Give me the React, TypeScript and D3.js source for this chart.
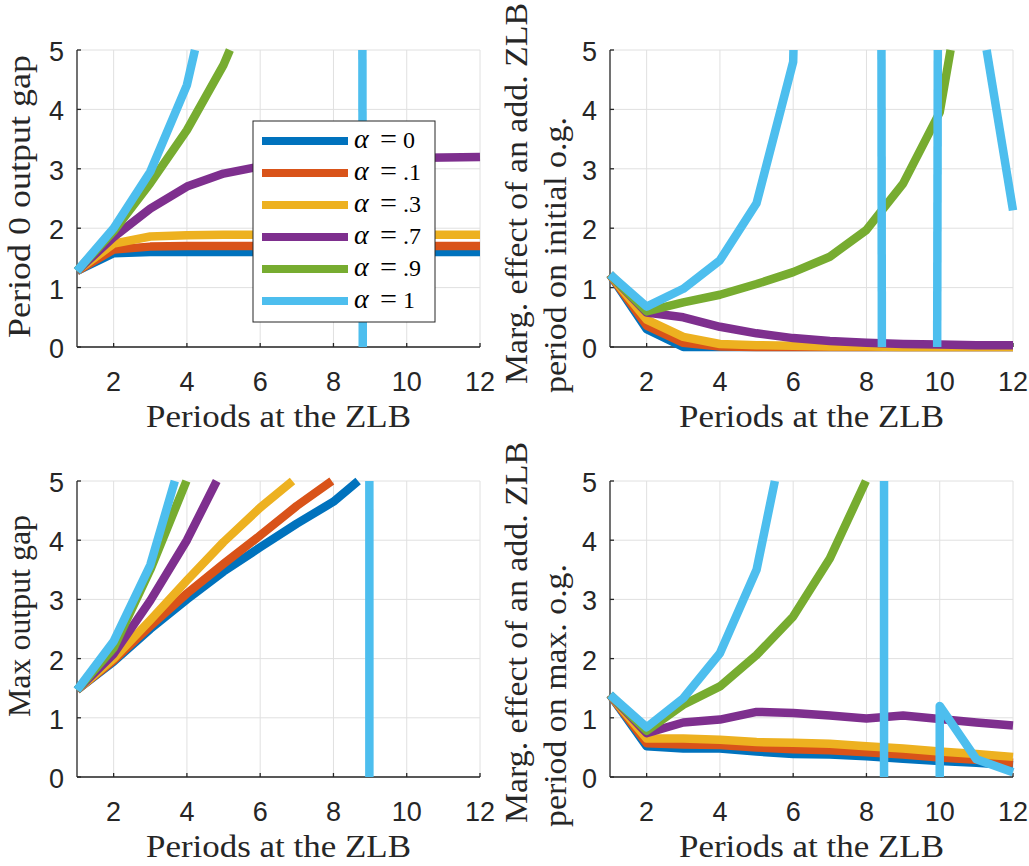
import React from "react";
import * as d3 from "d3";

// ---------- data ----------
const periods = [1, 2, 3, 4, 5, 6, 7, 8, 9, 10, 11, 12];
const alphaLabels = ["0", ".1", ".3", ".7", ".9", "1"];
const colors = ["#0072BD", "#D95319", "#EDB120", "#7E2F8E", "#77AC30", "#4DBEEE"];
const xTicks = [2, 4, 6, 8, 10, 12];
const yTicks = [0, 1, 2, 3, 4, 5];

// Panel 1: Period 0 output gap
const p1_a0 = [1.28, 1.58, 1.6, 1.6, 1.6, 1.6, 1.6, 1.6, 1.6, 1.6, 1.6, 1.6];
const p1_a1 = [1.28, 1.64, 1.69, 1.7, 1.7, 1.7, 1.7, 1.7, 1.7, 1.7, 1.7, 1.7];
const p1_a3 = [1.28, 1.74, 1.86, 1.88, 1.89, 1.89, 1.89, 1.89, 1.89, 1.89, 1.89, 1.89];
const p1_a7 = [1.28, 1.85, 2.33, 2.7, 2.92, 3.04, 3.1, 3.14, 3.17, 3.18, 3.19, 3.2];
const p1_a9 = [1.28, 1.95, 2.76, 3.65, 4.75, 6.2, 8.2, 11, 15, 20, 27, 36];
const p1_a10 = [1.28, 2.0, 2.95, 4.41, 7.1, 12, 25, 400, -100, -40, -20, -10];

// Panel 2: marginal effect on initial o.g.
const p2_a0 = [1.22, 0.3, 0.0, 0, 0, 0, 0, 0, 0, 0, 0, 0];
const p2_a1 = [1.22, 0.36, 0.07, 0.01, 0, 0, 0, 0, 0, 0, 0, 0];
const p2_a3 = [1.22, 0.46, 0.17, 0.05, 0.03, 0.02, 0.01, 0.01, 0, 0, 0, 0];
const p2_a7 = [1.22, 0.58, 0.5, 0.34, 0.23, 0.15, 0.1, 0.07, 0.05, 0.04, 0.03, 0.03];
const p2_a9 = [1.22, 0.6, 0.75, 0.88, 1.06, 1.26, 1.52, 1.97, 2.75, 3.95, 7.5, 15];
const p2_a10 = [1.22, 0.68, 0.98, 1.46, 2.42, 4.8, 30, 193, -266, 20, 6.05, 2.3];

// Panel 3: Max output gap
const p3_a0 = [1.47, 1.95, 2.5, 3.0, 3.47, 3.88, 4.28, 4.65, 5.17, 5.6, 6.0, 6.4];
const p3_a1 = [1.47, 1.97, 2.55, 3.1, 3.6, 4.08, 4.58, 5.02, 5.5, 6, 6.5, 7];
const p3_a3 = [1.47, 2.0, 2.65, 3.32, 3.97, 4.55, 5.06, 5.6, 6.1, 6.6, 7.1, 7.6];
const p3_a7 = [1.47, 2.08, 2.98, 4.0, 5.23, 6.5, 8, 9.5, 11, 13, 15, 17];
const p3_a9 = [1.47, 2.18, 3.5, 5.02, 6.8, 9, 12, 15, 19, 24, 30, 37];
const p3_a10 = [1.47, 2.29, 3.58, 5.7, 9, 15, 30, 10000, -200, -200, -200, -200];

// Panel 4: marginal effect on max o.g.
const p4_a0 = [1.39, 0.52, 0.48, 0.48, 0.43, 0.39, 0.38, 0.35, 0.31, 0.27, 0.24, 0.2];
const p4_a1 = [1.39, 0.57, 0.55, 0.54, 0.5, 0.47, 0.45, 0.42, 0.38, 0.33, 0.29, 0.24];
const p4_a3 = [1.39, 0.65, 0.65, 0.63, 0.59, 0.58, 0.56, 0.52, 0.48, 0.43, 0.39, 0.34];
const p4_a7 = [1.39, 0.74, 0.92, 0.97, 1.1, 1.08, 1.04, 0.99, 1.04, 0.98, 0.92, 0.87];
const p4_a9 = [1.39, 0.78, 1.22, 1.53, 2.06, 2.71, 3.69, 5.02, 6.8, 9, 12, 16];
const p4_a10 = [1.39, 0.84, 1.33, 2.09, 3.5, 6.5, 20, 9231, -10000, 1.2, 0.3, 0.08];

const xLabel = "Periods at the ZLB";

// ---------- helpers ----------
type P = [number, number];

function clipRuns(pts: P[], xmin: number, xmax: number, ymin: number, ymax: number): P[][] {
  const runs: P[][] = [];
  let cur: P[] | null = null;
  for (let i = 0; i < pts.length - 1; i++) {
    const [x0, y0] = pts[i];
    const [x1, y1] = pts[i + 1];
    const dx = x1 - x0, dy = y1 - y0;
    let t0 = 0, t1 = 1, ok = true;
    const ps = [-dx, dx, -dy, dy];
    const qs = [x0 - xmin, xmax - x0, y0 - ymin, ymax - y0];
    for (let k = 0; k < 4; k++) {
      const p = ps[k], q = qs[k];
      if (p === 0) {
        if (q < 0) { ok = false; break; }
      } else {
        const t = q / p;
        if (p < 0) { if (t > t0) t0 = t; } else { if (t < t1) t1 = t; }
        if (t0 > t1) { ok = false; break; }
      }
    }
    if (!ok) { cur = null; continue; }
    const a: P = [x0 + t0 * dx, y0 + t0 * dy];
    const b: P = [x0 + t1 * dx, y0 + t1 * dy];
    if (cur && t0 === 0) {
      cur.push(b);
    } else {
      cur = [a, b];
      runs.push(cur);
    }
    if (t1 < 1) cur = null;
  }
  return runs;
}

const AX = "#262626";
const GRID = "#e0e0e0";
const sans = "Liberation Sans, Arial, Helvetica, sans-serif";
const serif = "Liberation Serif, Times New Roman, Times, serif";

type PanelSpec = {
  x0: number; x1: number; yTop: number; yBot: number;
  series: number[][];
};

function Panel({ spec, id }: { spec: PanelSpec; id: string }) {
  const x = d3.scaleLinear().domain([1, 12]).range([spec.x0, spec.x1]);
  const y = d3.scaleLinear().domain([0, 5]).range([spec.yBot, spec.yTop]);
  const line = d3.line<P>().x((d) => d[0]).y((d) => d[1]);
  return (
    <g>
      {xTicks.map((t) => (
        <line key={"gx" + t} x1={x(t)} x2={x(t)} y1={spec.yTop} y2={spec.yBot} stroke={GRID} strokeWidth={1} />
      ))}
      {yTicks.map((t) => (
        <line key={"gy" + t} x1={spec.x0} x2={spec.x1} y1={y(t)} y2={y(t)} stroke={GRID} strokeWidth={1} />
      ))}
      <line x1={spec.x0} x2={spec.x1} y1={spec.yBot} y2={spec.yBot} stroke={AX} strokeWidth={1.3} />
      <line x1={spec.x0} x2={spec.x0} y1={spec.yTop} y2={spec.yBot} stroke={AX} strokeWidth={1.3} />
      {xTicks.map((t) => (
        <line key={"tx" + t} x1={x(t)} x2={x(t)} y1={spec.yBot} y2={spec.yBot - 4} stroke={AX} strokeWidth={1.3} />
      ))}
      {yTicks.map((t) => (
        <line key={"ty" + t} x1={spec.x0} x2={spec.x0 + 4} y1={y(t)} y2={y(t)} stroke={AX} strokeWidth={1.3} />
      ))}
      {xTicks.map((t) => (
        <text key={"lx" + t} x={x(t)} y={spec.yBot + 44} textAnchor="middle" fontFamily={sans} fontSize={27} fill={AX}>
          {t}
        </text>
      ))}
      {yTicks.map((t) => (
        <text key={"ly" + t} x={spec.x0 - 13} y={y(t) + 11} textAnchor="end" fontFamily={sans} fontSize={27} fill={AX}>
          {t}
        </text>
      ))}
      {spec.series.map((vals, si) => {
        const pts: P[] = periods.map((p, i) => [x(p), y(vals[i])]);
        const runs = clipRuns(pts, spec.x0, spec.x1, spec.yTop, spec.yBot);
        return runs.map((r, ri) => (
          <path key={id + si + "_" + ri} d={line(r) || ""} fill="none" stroke={colors[si]} strokeWidth={8.5} strokeLinejoin="round" strokeLinecap="butt" />
        ));
      })}
    </g>
  );
}

export default function App() {
  const panels: PanelSpec[] = [
    { x0: 77, x1: 480, yTop: 50, yBot: 347, series: [p1_a0, p1_a1, p1_a3, p1_a7, p1_a9, p1_a10] },
    { x0: 610, x1: 1013, yTop: 50, yBot: 347, series: [p2_a0, p2_a1, p2_a3, p2_a7, p2_a9, p2_a10] },
    { x0: 77, x1: 480, yTop: 481, yBot: 777, series: [p3_a0, p3_a1, p3_a3, p3_a7, p3_a9, p3_a10] },
    { x0: 610, x1: 1013, yTop: 481, yBot: 777, series: [p4_a0, p4_a1, p4_a3, p4_a7, p4_a9, p4_a10] },
  ];
  const legendX = 253, legendY = 121, legendW = 182, legendH = 201;
  return (
    <svg width={1029} height={866} style={{ position: "absolute", left: 0, top: 0, background: "#fff" }}>
      <rect x={0} y={0} width={1029} height={866} fill="#fff" />
      {panels.map((p, i) => (
        <Panel key={i} spec={p} id={"p" + i} />
      ))}
      {/* x labels */}
      {panels.map((p, i) => (
        <text key={"xl" + i} x={(p.x0 + p.x1) / 2} y={p.yBot + 80} textAnchor="middle" fontFamily={serif} fontSize={31} fill={AX} textLength={265} lengthAdjust="spacingAndGlyphs">
          {xLabel}
        </text>
      ))}
      {/* y labels */}
      <text transform="translate(30,338) rotate(-90)" fontFamily={serif} fontSize={31} fill={AX} textLength={283} lengthAdjust="spacingAndGlyphs">
        Period 0 output gap
      </text>
      <text transform="translate(30,717) rotate(-90)" fontFamily={serif} fontSize={31} fill={AX} textLength={202} lengthAdjust="spacingAndGlyphs">
        Max output gap
      </text>
      <text transform="translate(527,384) rotate(-90)" fontFamily={serif} fontSize={31} fill={AX} textLength={381} lengthAdjust="spacingAndGlyphs">
        Marg. effect of an add. ZLB
      </text>
      <text transform="translate(566,393) rotate(-90)" fontFamily={serif} fontSize={31} fill={AX} textLength={276} lengthAdjust="spacingAndGlyphs">
        period on initial o.g.
      </text>
      <text transform="translate(527,823) rotate(-90)" fontFamily={serif} fontSize={31} fill={AX} textLength={381} lengthAdjust="spacingAndGlyphs">
        Marg. effect of an add. ZLB
      </text>
      <text transform="translate(566,827) rotate(-90)" fontFamily={serif} fontSize={31} fill={AX} textLength={263} lengthAdjust="spacingAndGlyphs">
        period on max. o.g.
      </text>
      {/* legend */}
      <rect x={legendX} y={legendY} width={legendW} height={legendH} fill="#fff" stroke={AX} strokeWidth={1} />
      {alphaLabels.map((lab, i) => {
        const cy = 141 + 32 * i;
        return (
          <g key={"lg" + i}>
            <line x1={262} x2={348} y1={cy} y2={cy} stroke={colors[i]} strokeWidth={8} />
            <text x={354} y={cy + 7} fontFamily={serif} fontStyle="italic" fontSize={28} fill="#000">α</text>
            <text x={380} y={cy + 7} fontFamily={serif} fontSize={27} fill="#000" textLength={17} lengthAdjust="spacingAndGlyphs">=</text>
            <text x={403} y={cy + 7} fontFamily={serif} fontSize={24} fill="#000">{lab}</text>
          </g>
        );
      })}
    </svg>
  );
}
